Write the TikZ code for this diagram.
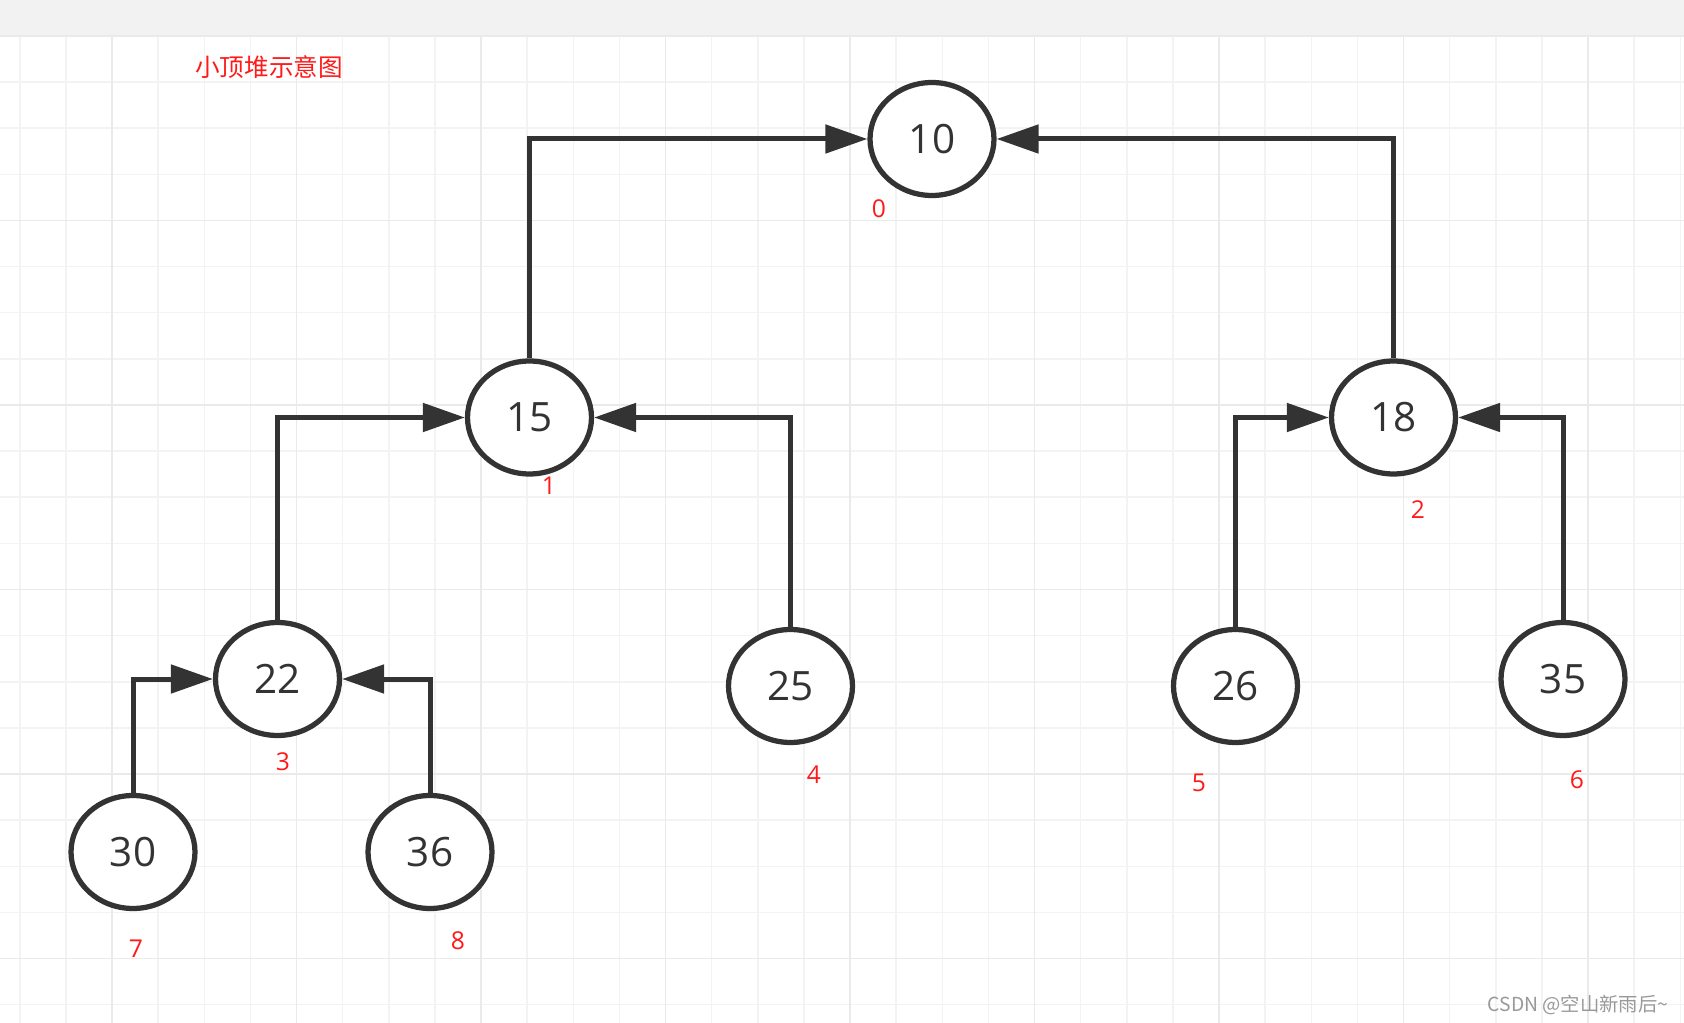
\documentclass[tikz,border=0pt]{standalone}
\usepackage{fontspec}
\setmainfont{Open Sans}
\newfontfamily\cjk{Noto Sans CJK SC}
\usetikzlibrary{arrows.meta,shapes.geometric}
\definecolor{inkgray}{HTML}{333333}
\definecolor{gridminor}{HTML}{F3F3F3}
\definecolor{gridmajor}{HTML}{EAEAEA}
\definecolor{bandgray}{HTML}{F2F2F2}
\definecolor{idxred}{HTML}{FF1A1A}
\definecolor{markgray}{HTML}{999999}
\begin{document}
\begin{tikzpicture}[x=0.02cm,y=-0.02cm,
    heapnode/.style={ellipse,draw=inkgray,line width=0.105cm,fill=white,
      minimum width=2.48cm,minimum height=2.26cm,inner sep=0pt,
      text=inkgray,font=\fontsize{23}{28}\selectfont},
    idx/.style={text=idxred,font=\fontsize{14}{17}\selectfont},
    link/.style={draw=inkgray,line width=0.1cm,
      -{Triangle[length=0.84cm,width=0.56cm]}}]
  \useasboundingbox (0,0) rectangle (1684,1023);
  \fill[white] (0,0) rectangle (1684,1023);
  \fill[bandgray] (0,0) rectangle (1684,36);
  % canvas grid
  \foreach \i in {0,...,36}
    \draw[gridminor,line width=0.03cm] ({19.75+46.125*\i},36) -- ++(0,987);
  \foreach \i in {1,...,21}
    \draw[gridminor,line width=0.03cm] (0,{36+46.125*\i}) -- ++(1684,0);
  \foreach \i in {0,...,8}
    \draw[gridmajor,line width=0.03cm] ({112+184.5*\i},36) -- ++(0,987);
  \foreach \i in {0,...,5}
    \draw[gridmajor,line width=0.03cm] (0,{36+184.5*\i}) -- ++(1684,0);
  \node[text=idxred,font=\cjk\fontsize{14}{17}\selectfont] (title) at (269,67) {小顶堆示意图};
  % heap nodes
  \node[heapnode] (h0) at (932,139) {10};
  \node[heapnode] (h1) at (529.5,417.5) {15};
  \node[heapnode] (h2) at (1393.5,417.5) {18};
  \node[heapnode] (h3) at (277.5,679) {22};
  \node[heapnode] (h4) at (790.5,686) {25};
  \node[heapnode] (h5) at (1235.5,686) {26};
  \node[heapnode] (h6) at (1563,679) {35};
  \node[heapnode] (h7) at (133,852) {30};
  \node[heapnode] (h8) at (430,852) {36};
  \draw[link] (h1) |- (h0);
  \draw[link] (h2) |- (h0);
  \draw[link] (h3) |- (h1);
  \draw[link] (h4) |- (h1);
  \draw[link] (h5) |- (h2);
  \draw[link] (h6) |- (h2);
  \draw[link] (h7) |- (h3);
  \draw[link] (h8) |- (h3);
  % array indices
  \node[idx] (i0) at (879,209) {0};
  \node[idx] (i1) at (549,486) {1};
  \node[idx] (i2) at (1418,510) {2};
  \node[idx] (i3) at (283,762) {3};
  \node[idx] (i4) at (814,775) {4};
  \node[idx] (i5) at (1199,783) {5};
  \node[idx] (i6) at (1577,780) {6};
  \node[idx] (i7) at (136,949) {7};
  \node[idx] (i8) at (458,941) {8};
  \node[text=markgray,font=\cjk\fontsize{11}{13}\selectfont] (mark) at (1578,1005) {CSDN @空山新雨后\textasciitilde};
\end{tikzpicture}
\end{document}
